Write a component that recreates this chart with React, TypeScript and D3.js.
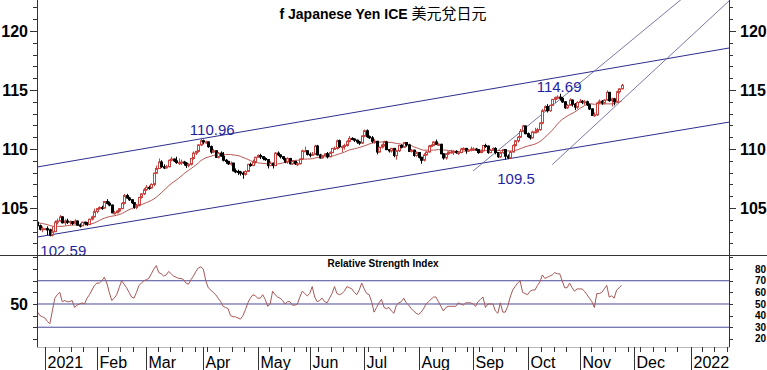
import React from 'react';
import * as d3 from 'd3';

// daily candles, weekdays from 2020-12-29 to 2021-11-24
const firstDay = new Date(2020, 11, 29);
const lastDay = new Date(2021, 10, 24);

// closes of the 20 sessions before the first candle (for the 20 day average)
const warmupCloses = [104.35, 104.45, 103.85, 104.15, 104.05, 104.15, 104.20, 104.25, 104.00, 104.05,
  103.65, 103.50, 103.05, 103.30, 103.35, 103.60, 103.55, 103.60, 103.55, 103.80];

const closes = [
  103.50, 103.20, 103.25,
  103.25, 103.15, 102.70, 103.00, 103.80, 103.90, 104.25, 103.75, 103.90, 103.80, 103.85, 103.70, 103.90, 103.55, 103.50, 103.80, 103.75, 103.60, 104.05, 104.25, 104.70,
  104.95, 105.05, 105.00, 105.55, 105.40, 105.25, 104.60, 104.60, 104.75, 104.95, 105.40, 106.05, 105.85, 105.70, 105.45, 105.05, 105.25, 105.90, 106.20, 106.55,
  106.75, 106.70, 107.00, 107.95, 108.35, 108.90, 108.50, 108.40, 108.50, 109.05, 109.15, 109.00, 108.85, 108.85, 108.90, 108.80, 108.60, 108.70, 109.20, 109.65, 109.80, 110.35, 110.70,
  110.60, 110.60, 110.20, 109.75, 109.85, 109.30, 109.65, 109.40, 109.05, 108.95, 108.75, 108.80, 108.15, 108.10, 108.05, 107.95, 107.85, 108.10, 108.70, 108.60, 108.90, 109.30,
  109.45, 109.35, 109.20, 109.10, 108.60, 108.80, 108.60, 109.65, 109.50, 109.35, 109.20, 108.90, 109.20, 108.75, 108.95, 108.75, 108.75, 109.15, 109.85, 109.85, 109.55,
  109.50, 109.55, 110.25, 109.50, 109.25, 109.45, 109.60, 109.35, 109.70, 110.05, 110.05, 110.70, 110.20, 110.20, 110.30, 110.65, 110.90, 110.85, 110.75, 110.60, 110.50, 111.10,
  111.55, 111.05, 110.95, 110.65, 110.65, 109.75, 110.15, 110.35, 110.60, 109.95, 109.85, 110.05, 109.45, 109.85, 110.30, 110.15, 110.55, 110.35, 109.80, 109.90, 109.45, 109.70,
  109.30, 109.05, 109.50, 109.75, 110.25, 110.30, 110.60, 110.40, 110.40, 109.60, 109.25, 109.60, 109.75, 109.75, 109.80, 109.70, 109.70, 110.00, 110.05, 109.85, 109.90, 110.00,
  110.00, 109.95, 109.70, 109.85, 110.30, 110.25, 109.70, 109.90, 110.05, 109.70, 109.35, 109.70, 109.95, 109.40, 109.25, 109.75, 110.30, 110.70, 111.00, 111.50, 111.95, 111.30,
  111.05, 110.95, 111.45, 111.45, 111.65, 112.20, 113.25, 113.60, 113.25, 113.70, 114.20, 114.35, 114.40, 114.30, 114.00, 113.50, 113.70, 114.15, 113.80, 113.55, 113.95,
  114.05, 113.95, 114.00, 113.75, 113.40, 112.85, 112.90, 113.90, 114.05, 113.90, 114.15, 114.80, 114.10, 114.25, 114.00, 114.85, 115.10, 115.40,
];

const highs = [
  103.90, 103.60, 103.45,
  103.30, 103.45, 103.25, 103.45, 103.95, 104.10, 104.40, 104.30, 104.05, 104.10, 103.95, 103.90, 104.05, 103.95, 103.70, 103.85, 103.85, 103.80, 104.10, 104.35, 104.95,
  105.00, 105.15, 105.20, 105.60, 105.75, 105.55, 105.30, 104.75, 104.80, 105.00, 105.50, 106.20, 106.20, 105.95, 105.75, 105.50, 105.35, 105.95, 106.25, 106.70,
  106.95, 106.90, 107.10, 108.00, 108.60, 109.20, 109.05, 108.70, 108.65, 109.10, 109.35, 109.20, 109.35, 109.20, 109.10, 109.00, 108.90, 108.80, 109.25, 109.80, 109.85, 110.40, 110.96,
  110.80, 110.70, 110.65, 110.30, 110.00, 109.90, 109.75, 109.80, 109.75, 109.15, 109.00, 108.95, 108.85, 108.35, 108.25, 108.15, 108.10, 108.20, 108.75, 108.85, 109.10, 109.35,
  109.55, 109.60, 109.40, 109.30, 109.15, 108.95, 108.85, 109.75, 109.80, 109.55, 109.40, 109.25, 109.30, 109.25, 109.05, 109.00, 108.90, 109.20, 109.95, 110.20, 109.90,
  109.70, 109.75, 110.35, 110.35, 109.60, 109.50, 109.65, 109.75, 109.80, 110.10, 110.20, 110.80, 110.80, 110.30, 110.45, 110.75, 111.10, 111.00, 110.90, 110.80, 110.70, 111.15,
  111.65, 111.66, 111.15, 111.10, 110.85, 110.70, 110.20, 110.45, 110.70, 110.70, 110.00, 110.10, 110.10, 109.95, 110.35, 110.40, 110.60, 110.60, 110.45, 110.00, 109.95, 109.80,
  109.75, 109.35, 109.65, 109.80, 110.35, 110.40, 110.65, 110.80, 110.50, 110.45, 109.65, 109.65, 109.80, 109.95, 109.90, 109.90, 109.80, 110.10, 110.15, 110.10, 110.00, 110.20,
  110.15, 110.10, 110.00, 109.95, 110.35, 110.45, 110.30, 110.00, 110.15, 110.15, 109.75, 109.80, 110.00, 110.00, 109.55, 109.85, 110.40, 110.75, 111.10, 111.70, 112.05, 112.00,
  111.40, 111.20, 111.55, 111.80, 111.80, 112.25, 113.40, 113.70, 113.80, 113.75, 114.25, 114.45, 114.55, 114.69, 114.40, 114.05, 113.80, 114.30, 114.20, 113.90, 114.05,
  114.25, 114.15, 114.15, 114.10, 113.85, 113.45, 113.10, 113.95, 114.20, 114.15, 114.20, 114.97, 114.85, 114.35, 114.30, 114.95, 115.15, 115.52,
];

const lows = [
  103.35, 103.10, 102.95,
  103.20, 102.70, 102.60, 102.59, 102.95, 103.60, 103.85, 103.70, 103.55, 103.65, 103.60, 103.55, 103.65, 103.50, 103.35, 103.45, 103.55, 103.50, 103.55, 103.95, 104.20,
  104.55, 104.85, 104.85, 104.95, 105.30, 105.15, 104.55, 104.45, 104.55, 104.65, 104.90, 105.30, 105.80, 105.60, 105.35, 104.95, 104.90, 105.15, 105.80, 106.10,
  106.45, 106.55, 106.65, 106.85, 107.90, 108.30, 108.40, 108.30, 108.35, 108.45, 108.95, 108.90, 108.75, 108.65, 108.65, 108.60, 108.40, 108.45, 108.60, 109.10, 109.50, 109.70, 110.25,
  110.40, 110.45, 110.10, 109.60, 109.65, 109.25, 109.20, 109.35, 108.95, 108.75, 108.65, 108.60, 108.10, 107.95, 107.80, 107.75, 107.48, 107.75, 108.05, 108.50, 108.55, 108.75,
  109.25, 109.15, 109.05, 109.00, 108.35, 108.55, 108.35, 108.55, 109.40, 109.20, 109.05, 108.80, 108.75, 108.70, 108.65, 108.65, 108.55, 108.70, 109.10, 109.75, 109.45,
  109.30, 109.40, 109.50, 109.45, 109.20, 109.20, 109.40, 109.20, 109.30, 109.65, 109.95, 109.95, 110.10, 109.75, 109.95, 110.20, 110.55, 110.75, 110.60, 110.45, 110.35, 110.45,
  111.00, 110.95, 110.85, 110.50, 110.45, 109.55, 109.70, 110.05, 110.20, 109.90, 109.70, 109.70, 109.30, 109.10, 109.75, 110.05, 110.10, 110.20, 109.75, 109.70, 109.35, 109.35,
  109.20, 108.75, 108.95, 109.45, 109.70, 110.15, 110.25, 110.35, 110.25, 109.55, 109.10, 109.10, 109.50, 109.60, 109.50, 109.60, 109.50, 109.65, 109.90, 109.60, 109.75, 109.80,
  109.85, 109.85, 109.60, 109.65, 109.80, 110.10, 109.60, 109.65, 109.85, 109.55, 109.25, 109.25, 109.60, 109.11, 109.15, 109.15, 109.70, 110.20, 110.55, 110.95, 111.40, 111.25,
  110.95, 110.80, 110.90, 111.35, 111.40, 111.55, 112.10, 113.20, 113.10, 113.15, 113.65, 113.90, 114.20, 114.10, 113.90, 113.40, 113.40, 113.65, 113.60, 113.30, 113.40,
  113.90, 113.80, 113.75, 113.65, 113.30, 112.80, 112.73, 112.80, 113.80, 113.75, 113.85, 114.10, 114.00, 113.60, 113.70, 113.95, 114.70, 115.05,
];

// 14 day RSI as plotted, one value per candle
const rsi = [
  43, 40, 39, 38, 35, 33, 44, 55, 58, 60,
  52, 53, 52, 52, 53, 47, 49, 50, 51, 50,
  55, 58, 62, 66, 68, 68, 70, 73, 68, 60,
  53, 55, 58, 64, 70, 67, 64, 60, 56, 55,
  60, 66, 68, 70, 71, 72, 76, 80, 83, 77,
  76, 74, 75, 78, 76, 74, 73, 72, 72, 71,
  68, 67, 71, 74, 78, 81, 82, 80, 70, 64,
  62, 60, 58, 55, 52, 48, 47, 46, 40, 39,
  39, 38, 37, 40, 45, 51, 55, 58, 57, 55,
  55, 58, 54, 48, 50, 61, 58, 56, 55, 53,
  50, 52, 52, 49, 49, 50, 56, 61, 59, 57,
  59, 65, 56, 52, 53, 55, 52, 51, 55, 59,
  65, 59, 58, 59, 61, 65, 64, 63, 60, 58,
  62, 68, 63, 59, 58, 52, 43, 47, 51, 54,
  47, 46, 47, 44, 42, 49, 51, 52, 55, 51,
  49, 46, 44, 42, 41, 43, 46, 50, 52, 54,
  56, 56, 52, 48, 44, 47, 48, 48, 48, 48,
  51, 50, 49, 51, 51, 51, 50, 48, 52, 54,
  56, 47, 50, 50, 50, 44, 42, 51, 43, 43,
  48, 56, 62, 65, 68, 70, 60, 59, 58, 61,
  62, 62, 66, 69, 75, 72, 73, 74, 75, 77,
  76, 76, 70, 64, 64, 68, 64, 61, 63, 63,
  63, 61, 58, 55, 52, 47, 59, 59, 60, 63,
  66, 56, 57, 55, 62, 64, 66,
];

// trend lines: [date, price] pairs
const channelLines = [
  [['2021-01-01', 108.59], ['2021-12-31', 117.97]],
  [['2021-01-01', 102.65], ['2021-12-31', 111.71]],
];
const steepLines = [
  [['2021-09-01', 108.14], ['2021-12-16', 121.28]],
  [['2021-10-15', 108.68], ['2022-01-17', 121.50]],
];

// price labels: [date, price, text, dx, dy]
const priceLabels: [string, number, string, number, number][] = [
  ['2021-01-06', 102.59, '102.59', -12, 20],
  ['2021-03-31', 110.96, '110.96', -11, -3],
  ['2021-10-20', 114.69, '114.69', -23, -2],
  ['2021-09-20', 109.11, '109.5', -8, 24],
];

const priceTicks = d3.range(102, 123);
const priceLabelTicks = [105, 110, 115, 120];
const rsiTicks = [20, 30, 40, 50, 60, 70, 80, 90];
const rsiRightLabels = [20, 30, 40, 50, 60, 70, 80];
const rsiLevels = [30, 50, 70];
const monthNames = ['2021', 'Feb', 'Mar', 'Apr', 'May', 'Jun', 'Jul', 'Aug', 'Sep', 'Oct', 'Nov', 'Dec', '2022'];

const FONT = '"Liberation Sans", Arial, sans-serif';
const origin = new Date(2021, 0, 1); // a Friday

// number of weekdays between 2021-01-01 and d
function wdIndex(d: Date) {
  const days = Math.round((+d - +origin) / 864e5);
  const weeks = Math.floor(days / 7);
  const rem = days - weeks * 7;
  return weeks * 5 + [0, 1, 1, 1, 2, 3, 4][rem];
}
const parse = (s: string) => {
  const [y, m, d] = s.split('-').map(Number);
  return new Date(y, m - 1, d);
};

export default function App() {
  const left = 37, right = 729, top = 0, mainBottom = 255, rsiBottom = 347;

  const x = d3.scaleLinear().domain([-3.2, 276.4]).range([left, right]);
  const y = d3.scaleLinear().domain([101.02, 122.63]).range([mainBottom, top]);
  const yr = d3.scaleLinear().domain([13, 92.15]).range([rsiBottom, mainBottom]);

  const days = d3.timeDay.range(firstDay, d3.timeDay.offset(lastDay, 1)).filter(d => d.getDay() > 0 && d.getDay() < 6);
  const allCloses = warmupCloses.concat(closes);
  const candles = days.map((d, i) => {
    const k = i + warmupCloses.length;
    return {
      idx: wdIndex(d),
      open: allCloses[k - 1],
      close: closes[i],
      high: highs[i],
      low: lows[i],
      ma: d3.mean(allCloses.slice(k - 19, k + 1)) as number,
      rsi: rsi[i],
    };
  });

  const maLine = d3.line<any>().x(c => x(c.idx)).y(c => y(c.ma));
  const rsiLine = d3.line<any>().x(c => x(c.idx)).y(c => yr(c.rsi));

  const upColor = '#c8423f';

  // extend a line given by two points across the whole plot width
  const fullLine = (l: any) => {
    const x1 = wdIndex(parse(l[0][0])), x2 = wdIndex(parse(l[1][0]));
    const s = (l[1][1] - l[0][1]) / (x2 - x1);
    const [a, b] = x.domain();
    return { x1: x(a), y1: y(l[0][1] + s * (a - x1)), x2: x(b), y2: y(l[0][1] + s * (b - x1)) };
  };
  // start at first point, extend upward past the top
  const rayLine = (l: any) => {
    const x1 = wdIndex(parse(l[0][0])), x2 = wdIndex(parse(l[1][0]));
    const s = (l[1][1] - l[0][1]) / (x2 - x1);
    const b = x1 + (y.domain()[1] + 1 - l[0][1]) / s;
    return { x1: x(x1), y1: y(l[0][1]), x2: x(b), y2: y(l[0][1] + s * (b - x1)) };
  };

  // month starts and friday ticks
  const monthStarts = d3.range(13).map(i => {
    let d = new Date(2021, i, 1);
    while (d.getDay() === 0 || d.getDay() === 6) d = d3.timeDay.offset(d, 1);
    return d;
  });
  const fridays = d3.timeFriday.range(new Date(2021, 0, 1), new Date(2022, 1, 1))
    .map(d => wdIndex(d) + 0.5)
    .filter(i => x(i) < right - 2 && monthStarts.every(m => Math.abs(x(wdIndex(m)) - x(i)) > 3));

  return (
    <svg width={767} height={370} style={{ position: 'absolute', left: 0, top: 0, background: '#fff' }} fontFamily={FONT}>
      <defs>
        <clipPath id="mainClip"><rect x={left} y={top} width={right - left} height={mainBottom - top} /></clipPath>
        <clipPath id="rsiClip"><rect x={left} y={mainBottom} width={right - left} height={rsiBottom - mainBottom} /></clipPath>
      </defs>

      <text x={(left + right) / 2} y={19} textAnchor="middle">
        <tspan fontWeight="bold" fontSize={14}>f Japanese Yen ICE </tspan>
        <tspan fontSize={15} fontFamily='"Noto Sans CJK TC", sans-serif'>美元兌日元</tspan>
      </text>

      <g clipPath="url(#mainClip)">
        {channelLines.map((l, i) => {
          const p = fullLine(l);
          return <line key={'c' + i} {...p} stroke="#2e2e8e" strokeWidth={1} />;
        })}
        {steepLines.map((l, i) => {
          const p = rayLine(l);
          return <line key={'s' + i} {...p} stroke="#6a6a9c" strokeWidth={0.9} />;
        })}
        <path d={maLine(candles) || ''} fill="none" stroke="#b85450" strokeWidth={1} />
        {candles.map((c, i) => {
          const cx = Math.round(x(c.idx));
          const up = c.close >= c.open;
          const yt = y(Math.max(c.open, c.close));
          const yb = y(Math.min(c.open, c.close));
          const col = up ? upColor : '#000';
          return (
            <g key={i}>
              <line x1={cx + 0.5} x2={cx + 0.5} y1={y(c.high)} y2={y(c.low)} stroke={col} strokeWidth={1} />
              <rect x={cx - 0.5} y={yt} width={2} height={Math.max(1, yb - yt)} fill={up ? '#fff' : '#000'} stroke={col} strokeWidth={1} />
            </g>
          );
        })}
        {priceLabels.map(([d, v, t, dx, dy]) => (
          <text key={t} x={x(wdIndex(parse(d))) + dx} y={y(v) + dy} fontSize={15} fill="#1f1fa0">{t}</text>
        ))}
      </g>

      <g clipPath="url(#rsiClip)">
        {rsiLevels.map(v => (
          <line key={v} x1={left} x2={right} y1={yr(v)} y2={yr(v)} stroke="#4a4a9a" strokeWidth={1} />
        ))}
        <path d={rsiLine(candles) || ''} fill="none" stroke="#a85858" strokeWidth={1} />
      </g>
      <text x={(left + right) / 2} y={267} textAnchor="middle" fontSize={10} fontWeight="bold">Relative Strength Index</text>

      {/* frame */}
      <line x1={0} x2={767} y1={mainBottom + 0.5} y2={mainBottom + 0.5} stroke="#333" />
      <line x1={left + 0.5} x2={left + 0.5} y1={0} y2={rsiBottom} stroke="#333" />
      <line x1={right + 0.5} x2={right + 0.5} y1={0} y2={rsiBottom} stroke="#333" />
      <line x1={left} x2={right + 1} y1={rsiBottom + 0.5} y2={rsiBottom + 0.5} stroke="#888" strokeWidth={0.6} />

      {/* price axis */}
      {priceTicks.map(v => {
        const len = v % 5 === 0 ? 7 : 4;
        const yy = Math.round(y(v)) + 0.5;
        return (
          <g key={v}>
            <line x1={left - len} x2={left} y1={yy} y2={yy} stroke="#333" />
            <line x1={right} x2={right + len} y1={yy} y2={yy} stroke="#333" />
          </g>
        );
      })}
      {priceLabelTicks.map(v => (
        <g key={v} fontSize={16} fontWeight="bold">
          <text x={28} y={y(v)} dy="0.36em" textAnchor="end">{v}</text>
          <text x={740} y={y(v)} dy="0.36em">{v}</text>
        </g>
      ))}

      {/* rsi axis */}
      {rsiTicks.map(v => {
        const yy = Math.round(yr(v)) + 0.5;
        return (
          <g key={v}>
            <line x1={left - 4} x2={left} y1={yy} y2={yy} stroke="#333" />
            <line x1={right} x2={right + 4} y1={yy} y2={yy} stroke="#333" />
          </g>
        );
      })}
      {rsiRightLabels.map(v => (
        <text key={v} x={755} y={yr(v)} dy="0.36em" fontSize={10} fontWeight="bold">{v}</text>
      ))}
      <text x={28} y={yr(50)} dy="0.36em" textAnchor="end" fontSize={16} fontWeight="bold">50</text>

      {/* date axis */}
      {fridays.map(i => (
        <line key={i} x1={Math.round(x(i)) + 0.5} x2={Math.round(x(i)) + 0.5} y1={rsiBottom} y2={rsiBottom + 5} stroke="#333" />
      ))}
      {monthStarts.map((d, i) => {
        const xx = Math.round(x(wdIndex(d))) + 0.5;
        return (
          <g key={i}>
            <line x1={xx} x2={xx} y1={rsiBottom} y2={370} stroke="#333" />
            <text x={xx + 2} y={368} fontSize={16}>{monthNames[i]}</text>
          </g>
        );
      })}
    </svg>
  );
}
